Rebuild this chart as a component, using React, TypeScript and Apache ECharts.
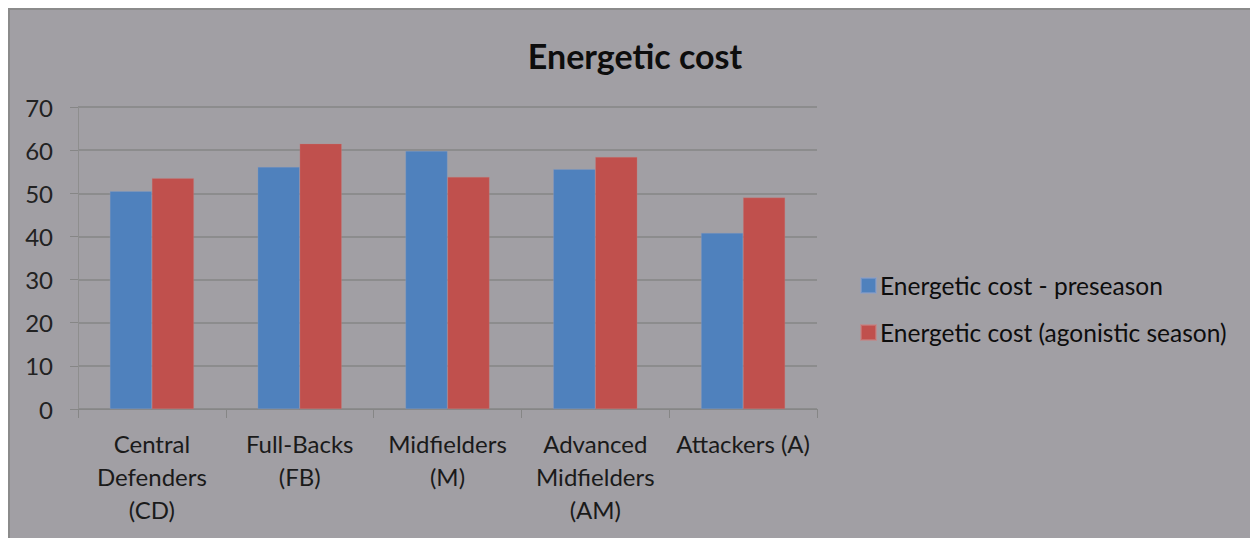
import React, { useEffect, useRef } from "react";
import * as echarts from "echarts";

const categories = [
  "Central\nDefenders\n(CD)",
  "Full-Backs\n(FB)",
  "Midfielders\n(M)",
  "Advanced\nMidfielders\n(AM)",
  "Attackers (A)",
];
const seriesNames = [
  "Energetic cost - preseason",
  "Energetic cost (agonistic season)",
];
const preseason = [50.5, 56.1, 59.8, 55.6, 40.8];
const agonistic = [53.5, 61.5, 53.8, 58.4, 49.0];
const yTicks = { min: 0, max: 70, interval: 10 };

const FONT = "Lato, 'Open Sans', sans-serif";

export default function App() {
  const ref = useRef<HTMLDivElement>(null);
  useEffect(() => {
    if (!ref.current) return;
    const chart = echarts.init(ref.current, undefined, { renderer: "svg" });
    chart.setOption({
      animation: false,
      backgroundColor: "#a19fa4",
      title: {
        text: "Energetic cost",
        left: 622,
        textAlign: "center",
        top: 25,
        textStyle: { fontFamily: FONT, fontSize: 34, fontWeight: "bold", color: "#0d0d0d" },
      },
      legend: {
        orient: "vertical",
        left: 847,
        top: 260,
        itemWidth: 15,
        itemHeight: 15,
        itemGap: 22,
        icon: "rect",
        textStyle: { fontFamily: FONT, fontSize: 24.5, color: "#0d0d0d", padding: [0, 0, 0, -1] },
        data: seriesNames,
      },
      graphic: [
        { type: "rect", shape: { x: 0, y: 0, width: 2, height: 530 }, style: { fill: "#8b8b8b" } },
        { type: "rect", shape: { x: 0, y: 0, width: 1250, height: 2 }, style: { fill: "#8b8b8b" } },
      ],
      grid: { left: 70, right: 441, top: 99, bottom: 129, containLabel: false },
      xAxis: {
        type: "category",
        data: categories,
        axisLine: { lineStyle: { color: "#868686", width: 1 } },
        axisTick: { show: true, length: 9, lineStyle: { color: "#868686" } },
        axisLabel: {
          interval: 0,
          margin: 18,
          fontFamily: FONT,
          fontSize: 24,
          lineHeight: 33,
          color: "#1a1a1a",
        },
      },
      yAxis: {
        type: "value",
        min: yTicks.min,
        max: yTicks.max,
        interval: yTicks.interval,
        axisLine: { show: true, lineStyle: { color: "#8e8e8e" } },
        axisTick: { show: true, length: 8, lineStyle: { color: "#868686" } },
        splitLine: { lineStyle: { color: "#868686", width: 1.5 } },
        axisLabel: { margin: 25, fontFamily: FONT, fontSize: 24, color: "#222222" },
      },
      series: [
        {
          name: seriesNames[0],
          type: "bar",
          data: preseason,
          barWidth: 42,
          barGap: "0%",
          itemStyle: { color: "#4f81bd", borderColor: "rgba(140,160,200,0.6)", borderWidth: 0.5 },
        },
        {
          name: seriesNames[1],
          type: "bar",
          data: agonistic,
          barWidth: 42,
          barGap: "0%",
          itemStyle: { color: "#c0504d", borderColor: "rgba(200,130,130,0.6)", borderWidth: 0.5 },
        },
      ],
    });
    return () => chart.dispose();
  }, []);
  return <div ref={ref} style={{ width: 1250, height: 530 }} />;
}
